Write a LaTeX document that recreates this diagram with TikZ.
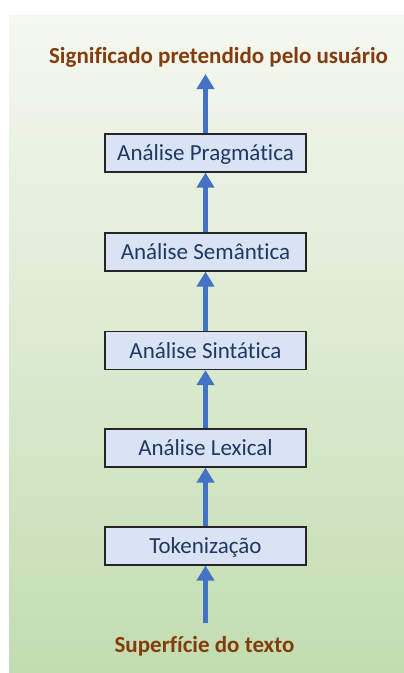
\documentclass[tikz,border=0pt]{standalone}
\usepackage{fontspec}
\setmainfont{Carlito}[RawFeature={-liga;-clig;-dlig}]
\usetikzlibrary{arrows.meta}
\definecolor{headbrown}{HTML}{843C0C}
\definecolor{flowblue}{HTML}{4472C4}
\definecolor{boxfill}{HTML}{DAE3F3}
\definecolor{boxtext}{HTML}{1F3864}
\definecolor{boxline}{HTML}{262626}
\definecolor{panetop}{HTML}{F5F8F1}
\definecolor{panemid}{HTML}{D6E8CA}
\definecolor{panebot}{HTML}{C2DDB0}
\begin{document}
\begin{tikzpicture}[x=1pt,y=-1pt,
  stage/.style={draw=boxline, line width=1.2pt, fill=boxfill, text=boxtext,
    minimum width=201pt, minimum height=38pt, inner sep=0pt,
    text height=15pt, text depth=0pt,
    font=\fontsize{23}{27}\selectfont},
  heading/.style={text=headbrown, inner sep=0pt, anchor=base,
    font=\fontsize{23}{27}\selectfont\bfseries},
  flow/.style={draw=flowblue, line width=5.3pt,
    -{Triangle[width=17pt,length=15pt]}}]
  \useasboundingbox (0,0) rectangle (404,673);
  % background panel with a vertical green gradient
  \shade[top color=panetop, middle color=panemid, bottom color=panebot]
    (9,15) rectangle (404,673);

  % processing stages, bottom to top
  \node[stage] (tok)  at (205.5,546) {Tokenização};
  \node[stage] (lex)  at (205.5,448) {Análise Lexical};
  \node[stage] (sin)  at (205.5,350.5) {Análise Sintática};
  \node[stage] (sem)  at (205.5,252) {Análise Semântica};
  \node[stage] (prag) at (205.5,153) {Análise Pragmática};

  % input and output labels
  \node[heading] (surf) at (204.5,652) {Superfície do texto};
  \node[heading] (goal) at (218.5,63) {Significado pretendido pelo usuário};

  \coordinate (start) at (205.5,623);
  \coordinate (end)   at (205.5,74);

  % upward flow
  \draw[flow] (start) -- (tok.south);
  \draw[flow] (tok.north) -- (lex.south);
  \draw[flow] (lex.north) -- (sin.south);
  \draw[flow] (sin.north) -- (sem.south);
  \draw[flow] (sem.north) -- (prag.south);
  \draw[flow] (prag.north) -- (end);
\end{tikzpicture}
\end{document}
